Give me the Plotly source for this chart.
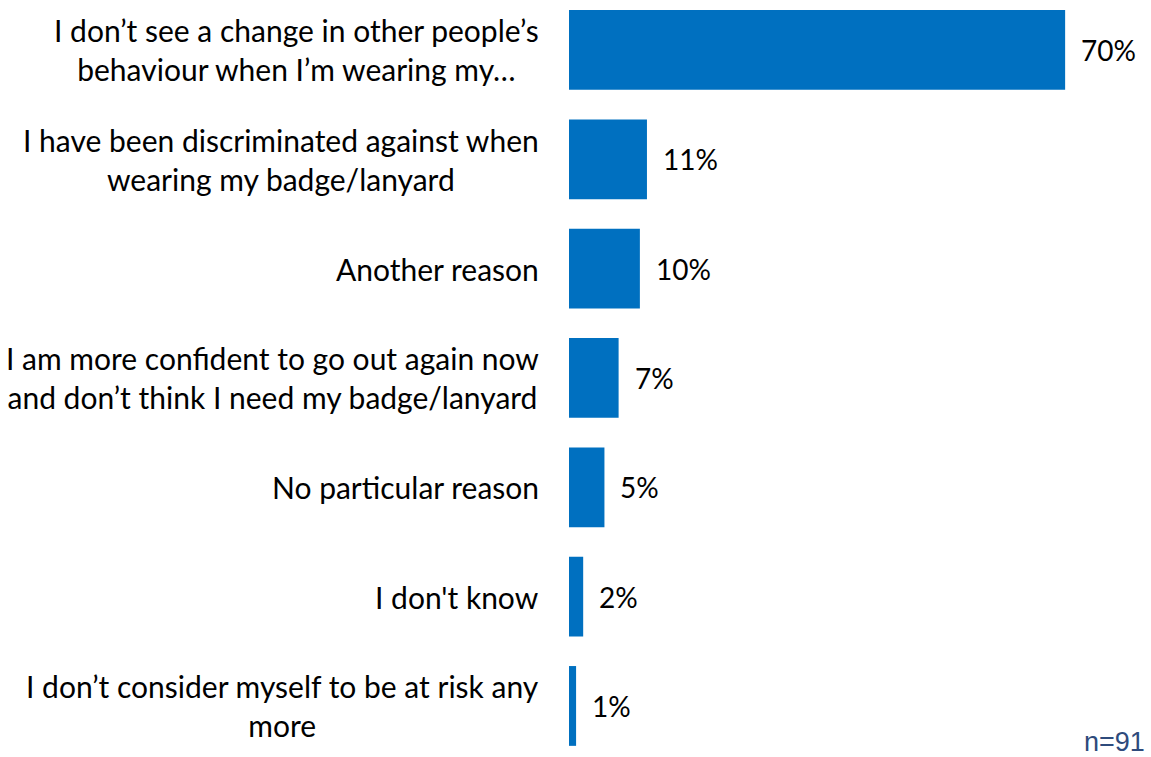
import plotly.graph_objects as go

# Survey responses (share of respondents, %)
categories = [
    "I don’t see a change in other people’s<br>behaviour when I’m wearing my…",
    "I have been discriminated against when<br>wearing my badge/lanyard",
    "Another reason",
    "I am more confident to go out again now<br>and don’t think I need my badge/lanyard",
    "No particular reason",
    "I don't know",
    "I don’t consider myself to be at risk any<br>more",
]
values = [70, 11, 10, 7, 5, 2, 1]
value_labels = ["70%", "11%", "10%", "7%", "5%", "2%", "1%"]
sample_note = "n=91"

BAR_COLOR = "#0070C0"
FONT = "Lato"

fig = go.Figure(
    go.Bar(
        x=values,
        y=categories,
        orientation="h",
        marker=dict(color=BAR_COLOR, line=dict(width=0)),
        hoverinfo="skip",
    )
)

# Category labels: centred lines, block right-aligned next to the bars
for cat in categories:
    fig.add_annotation(
        xref="paper", x=0, y=cat, text=cat, showarrow=False,
        xanchor="right", yanchor="middle", align="center", xshift=-28,
        font=dict(family=FONT, size=30, color="#000000"),
    )

# Value labels just past the end of each bar
for cat, val, lab in zip(categories, values, value_labels):
    fig.add_annotation(
        x=val, y=cat, text=lab, showarrow=False,
        xanchor="left", yanchor="middle", xshift=14,
        font=dict(family=FONT, size=28, color="#000000"),
    )

fig.add_annotation(
    xref="paper", yref="paper", x=1, y=0, text=sample_note, showarrow=False,
    xanchor="right", yanchor="bottom", xshift=11, yshift=-2,
    font=dict(family="Liberation Sans, Arial", size=27, color="#2E4B7C"),
)

fig.update_layout(
    width=1151, height=757,
    margin=dict(l=569, r=15, t=0, b=0),
    paper_bgcolor="white", plot_bgcolor="white",
    bargap=0.27,
    showlegend=False,
    xaxis=dict(range=[0, 80], visible=False, fixedrange=True),
    yaxis=dict(
        type="category",
        categoryorder="array", categoryarray=categories,
        range=[6.467, -0.457],
        showgrid=False, zeroline=False, showline=False, ticks="",
        showticklabels=False,
        fixedrange=True,
    ),
)

fig.write_html("out.html")
